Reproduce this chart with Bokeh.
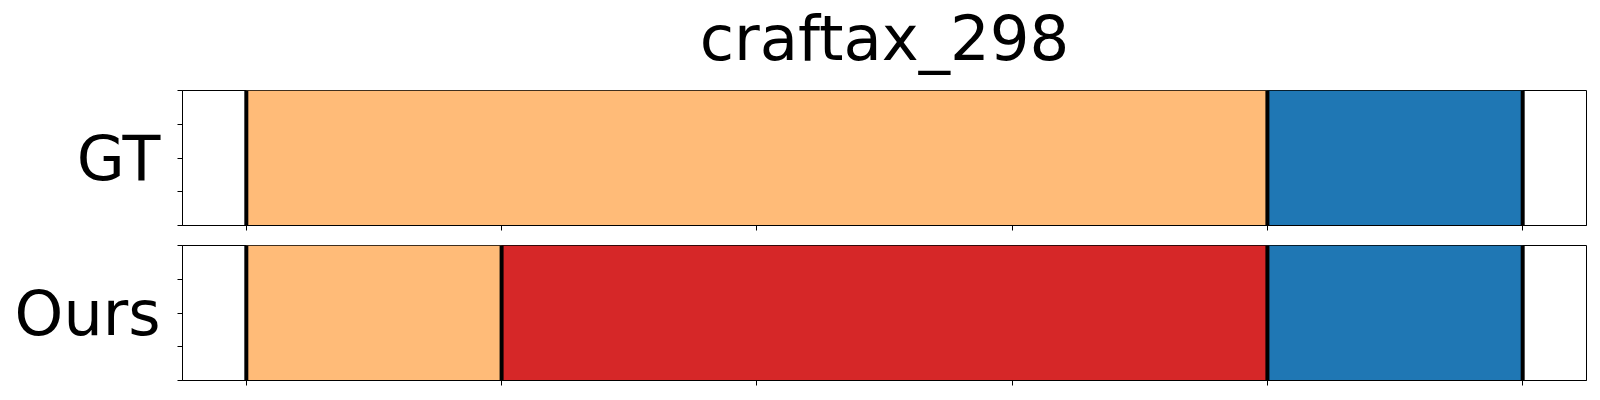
from bokeh.plotting import figure
from bokeh.layouts import column
from bokeh.models import FixedTicker, Range1d
from bokeh.core.properties import value
from bokeh.embed import file_html
from bokeh.resources import INLINE

title_text = "craftax_298"
row_labels = ["GT", "Ours"]

# segments per row: start, end, color
gt_starts = [0, 4]
gt_ends = [4, 5]
gt_colors = ["#ffbb78", "#1f77b4"]

ours_starts = [0, 1, 4]
ours_ends = [1, 4, 5]
ours_colors = ["#ffbb78", "#d62728", "#1f77b4"]

x_ticks = [0, 1, 2, 3, 4, 5]
y_ticks = [0, 0.25, 0.5, 0.75, 1.0]

FONT = "DejaVu Sans"
X_RANGE = (-0.25, 5.25)


def make_panel(label, starts, ends, colors, height, top, bottom):
    p = figure(width=1592, height=height, output_backend="svg", toolbar_location=None,
               x_range=Range1d(*X_RANGE), y_range=Range1d(0, 1),
               min_border_left=182, min_border_right=6,
               min_border_top=top, min_border_bottom=bottom)
    p.grid.visible = False
    p.outline_line_color = "black"
    p.outline_line_width = 1
    p.background_fill_color = "white"
    p.border_fill_color = "white"
    p.quad(left=starts, right=ends, bottom=[0] * len(starts), top=[1] * len(starts),
           fill_color=colors, line_color=None)
    bounds = sorted(set(starts) | set(ends))
    p.segment(x0=bounds, x1=bounds, y0=[0] * len(bounds), y1=[1] * len(bounds),
              line_color="black", line_width=4)

    xa = p.xaxis[0]
    xa.ticker = FixedTicker(ticks=x_ticks)
    xa.major_label_overrides = {t: "" for t in x_ticks}
    xa.major_label_text_font_size = "0px"
    xa.major_label_standoff = 0
    xa.major_tick_out = 5
    xa.major_tick_in = 0
    xa.minor_tick_out = 0
    xa.minor_tick_in = 0
    xa.axis_line_color = "black"
    xa.major_tick_line_color = "black"

    ya = p.yaxis[0]
    ya.ticker = FixedTicker(ticks=y_ticks)
    ya.major_label_overrides = {0: "", 0.25: "", 0.5: label, 0.75: "", 1: ""}
    ya.major_label_text_font = FONT
    ya.major_label_text_font_size = "62px"
    ya.major_label_text_color = "black"
    ya.major_label_standoff = 17
    ya.major_tick_out = 5
    ya.major_tick_in = 0
    ya.minor_tick_out = 0
    ya.minor_tick_in = 0
    ya.axis_line_color = "black"
    return p


# title strip, aligned with the panels' frame
t = figure(width=1592, height=90, output_backend="svg", toolbar_location=None,
           x_range=Range1d(*X_RANGE), y_range=Range1d(0, 90),
           x_axis_location=None, y_axis_location=None,
           min_border_left=182, min_border_right=6, min_border_top=0, min_border_bottom=0)
t.grid.visible = False
t.outline_line_color = None
t.background_fill_color = "white"
t.border_fill_color = "white"
t.text(x=[sum(X_RANGE) / 2], y=[52], text=[title_text], text_align="center",
       text_baseline="alphabetic", text_font=value(FONT), text_font_size=value("62.5px"),
       text_color="black")

p1 = make_panel(row_labels[0], gt_starts, gt_ends, gt_colors, 145, 0, 10)
p2 = make_panel(row_labels[1], ours_starts, ours_ends, ours_colors, 163, 10, 18)

layout = column(t, p1, p2, spacing=0)
open("out.html", "w").write(file_html(layout, INLINE))
